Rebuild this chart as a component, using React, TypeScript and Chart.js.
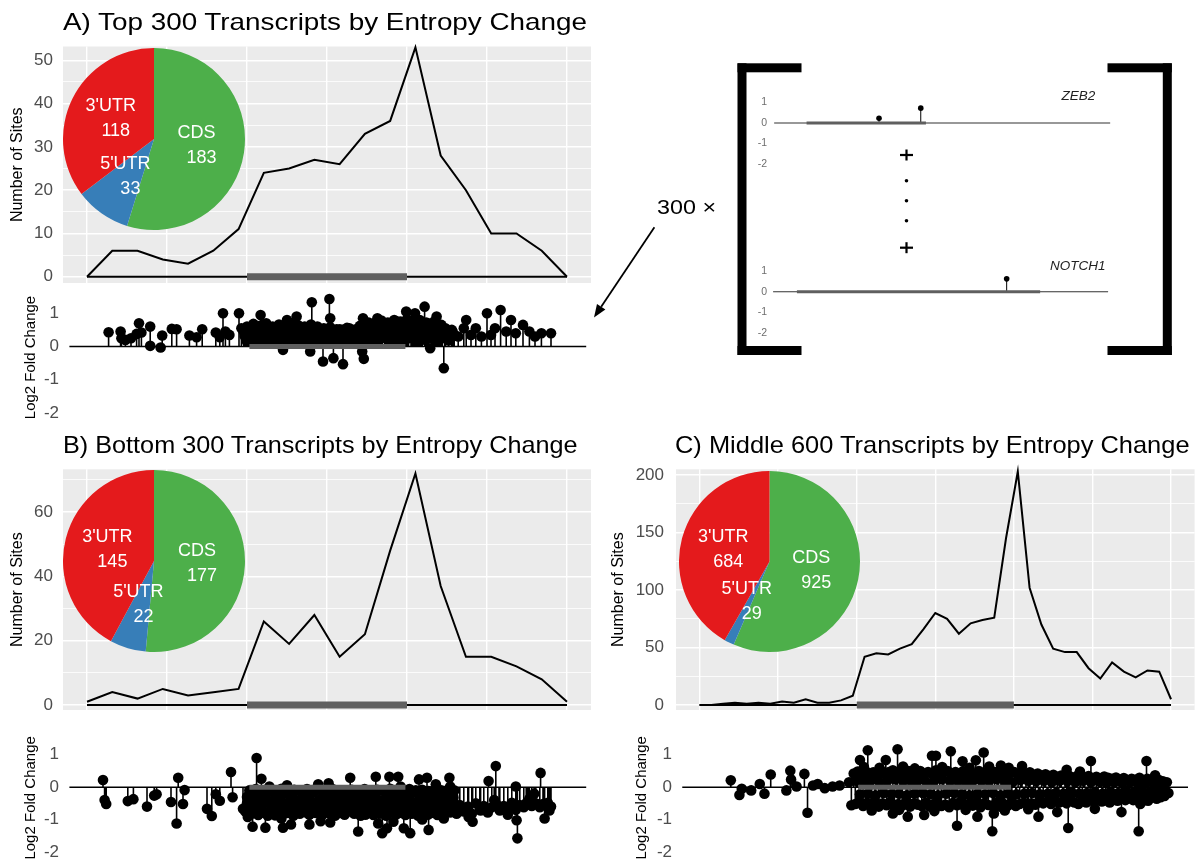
import { useEffect, useRef } from "react";
import { Chart, registerables } from "chart.js";

Chart.register(...registerables);

const SANS = "'Liberation Sans', Arial, Helvetica, sans-serif";
Chart.defaults.font.family = SANS;

const TICK_GRAY = "#4D4D4D";
const CDS_GRAY = "#5F5F5F";
const PANEL_GRAY = "#EBEBEB";

// Metagene coordinate: 5'UTR spans 0–2, CDS 2–4, 3'UTR 4–6
const META_MIN = -0.3;
const META_MAX = 6.3;
const META_GRID = [0, 1, 2, 3, 4, 5, 6];
const CDS_SPAN = [2, 4];
const LFC_CDS_SPAN = [2.03, 3.98];
const LFC_BASELINE = [-0.22, 6.24];

// Region breakdown of sites
const regionNames = ["CDS", "5'UTR", "3'UTR"];
const regionColors = ["#4DAF4A", "#377EB8", "#E41A1C"];
const topRegionCounts = [183, 33, 118];
const bottomRegionCounts = [177, 22, 145];
const middleRegionCounts = [925, 29, 684];

// Binned number of sites along the metagene
const topSiteCounts = [0, 6, 6, 4, 3, 6, 11, 24, 25, 27, 26, 33, 36, 53, 28, 20, 10, 10, 6, 0];
const bottomSiteCounts = [1, 4, 2, 5, 3, 4, 5, 26, 19, 28, 15, 22, 48, 72, 37, 15, 15, 12, 8, 1];
const middleSiteCounts = [
  0, 0, 1, 2, 1, 2, 1, 3, 2, 5, 2, 2, 4, 8, 42, 45, 44, 49, 53, 66, 80, 75, 62, 71, 74, 76, 145, 203, 102, 70,
  49, 46, 46, 32, 23, 37, 29, 24, 30, 29, 5,
];

const topCountTicks = [0, 10, 20, 30, 40, 50];
const bottomCountTicks = [0, 20, 40, 60];
const middleCountTicks = [0, 50, 100, 150, 200];
const lfcTicks = [-2, -1, 0, 1];

type Pt = [number, number];

// Per-site log2 fold change: [metagene position, log2FC]
const topFoldChange: Pt[] = [
  [0.27, 0.43], [0.42, 0.45], [0.43, 0.25], [0.48, 0.2], [0.55, 0.25], [0.62, 0.38], [0.65, 0.7], [0.68, 0.42],
  [0.79, 0.6], [0.79, 0.02], [0.92, -0.03], [0.94, 0.33], [1.06, 0.53], [1.12, 0.52], [1.28, 0.33], [1.37, 0.28],
  [1.44, 0.52], [1.61, 0.42], [1.66, 0.28], [1.7, 1.0], [1.73, 0.45], [1.78, 0.35], [1.9, 1.0], [1.93, 0.55],
  [1.96, 0.45], [2.0, 0.38], [2.03, 0.52], [2.06, 0.3], [2.1, 0.47], [2.13, 0.55], [2.17, 0.95], [2.2, 0.65],
  [2.23, 0.42], [2.26, 0.6], [2.3, 0.5], [2.32, 0.35], [2.36, 0.58], [2.39, 0.45], [2.42, 0.62], [2.45, -0.1],
  [2.47, 0.5], [2.5, 0.8], [2.54, 0.4], [2.56, 0.6], [2.6, 0.55], [2.62, 0.9], [2.65, 0.3], [2.69, 0.58],
  [2.71, 0.45], [2.74, 0.52], [2.77, 0.35], [2.79, -0.15], [2.81, 1.33], [2.82, 0.6], [2.86, 0.48], [2.89, 0.55],
  [2.91, 0.3], [2.95, -0.45], [2.98, 0.5], [3.0, 0.42], [3.03, 1.43], [3.04, 0.85], [3.06, 0.5], [3.08, -0.35],
  [3.11, 0.45], [3.14, 0.3], [3.16, 0.52], [3.2, -0.53], [3.23, 0.4], [3.25, 0.56], [3.28, 0.35], [3.31, 0.48],
  [3.35, 0.4], [3.38, 0.5], [3.41, 0.62], [3.44, -0.15], [3.45, 0.85], [3.46, -0.37], [3.49, 0.55], [3.51, 0.68],
  [3.55, 0.45], [3.59, 0.65], [3.63, 0.85], [3.65, 0.6], [3.69, 0.72], [3.72, 0.5], [3.75, 0.7], [3.78, 0.62],
  [3.82, 0.55], [3.84, 0.75], [3.88, 0.75], [3.9, 0.6], [3.94, 0.68], [3.97, 0.5], [3.99, 1.05], [4.02, 0.7],
  [4.05, 0.62], [4.08, 0.78], [4.1, 1.0], [4.14, 0.65], [4.17, 0.72], [4.19, 0.55], [4.22, 1.2], [4.26, 0.7],
  [4.29, -0.05], [4.31, 0.6], [4.34, 0.75], [4.37, 0.9], [4.39, 0.5], [4.43, 0.65], [4.46, -0.65], [4.48, 0.5],
  [4.52, 0.45], [4.56, 0.5], [4.59, 0.35],
  [1.97, 0.32], [2.02, 0.4], [2.07, 0.35], [2.12, 0.42], [2.17, 0.3], [2.22, 0.38], [2.27, 0.44], [2.32, 0.3],
  [2.37, 0.4], [2.42, 0.35], [2.47, 0.42], [2.52, 0.32], [2.57, 0.4], [2.62, 0.36], [2.67, 0.44], [2.72, 0.3],
  [2.77, 0.4], [2.82, 0.35], [2.87, 0.42], [2.92, 0.38], [2.97, 0.3], [3.02, 0.4], [3.07, 0.35], [3.12, 0.42],
  [3.17, 0.32], [3.22, 0.4], [3.27, 0.36], [3.32, 0.44], [3.37, 0.3], [3.42, 0.4], [3.47, 0.38], [3.52, 0.45],
  [3.57, 0.35], [3.62, 0.42], [3.67, 0.4], [3.72, 0.48], [3.77, 0.38], [3.82, 0.45], [3.87, 0.42], [3.92, 0.5],
  [3.97, 0.4], [4.02, 0.48], [4.07, 0.42], [4.12, 0.5], [4.17, 0.45], [4.22, 0.4], [4.27, 0.48], [4.32, 0.42],
  [4.37, 0.45], [4.42, 0.38], [4.47, 0.42], [4.52, 0.35], [4.57, 0.3],
  [2.0, 0.6], [2.08, 0.68], [2.16, 0.62], [2.24, 0.7], [2.32, 0.6], [2.4, 0.66], [2.48, 0.62], [2.56, 0.7],
  [2.64, 0.64], [2.72, 0.6], [2.8, 0.66], [2.88, 0.6], [2.96, 0.55], [3.04, 0.58], [3.12, 0.52], [3.2, 0.5],
  [3.28, 0.55], [3.36, 0.52], [3.44, 0.6], [3.52, 0.72], [3.6, 0.7], [3.68, 0.78], [3.76, 0.72], [3.84, 0.8],
  [3.92, 0.75], [4.0, 0.82], [4.08, 0.75], [4.16, 0.8], [4.24, 0.72], [4.32, 0.68], [4.4, 0.62], [4.48, 0.55],
  [2.0, 0.15], [2.08, 0.2], [2.16, 0.12], [2.24, 0.2], [2.33, 0.15], [2.41, 0.22], [2.5, 0.14], [2.58, 0.2],
  [2.67, 0.15], [2.75, 0.2], [2.84, 0.12], [2.92, 0.18], [3.01, 0.15], [3.1, 0.2], [3.18, 0.12], [3.27, 0.18],
  [3.35, 0.15], [3.43, 0.22], [3.52, 0.15], [3.6, 0.2], [3.68, 0.25], [3.77, 0.2], [3.85, 0.28], [3.93, 0.2],
  [4.02, 0.25], [4.1, 0.3], [4.18, 0.2], [4.27, 0.25], [4.35, 0.2], [4.44, 0.25], [4.52, 0.18],
  [4.57, 0.45], [4.64, 0.3], [4.71, 0.55], [4.74, 0.8], [4.8, 0.35], [4.86, 0.55], [4.93, 0.3], [5.0, 1.0],
  [5.05, 0.35], [5.1, 0.55], [5.17, 1.1], [5.24, 0.45], [5.3, 0.8], [5.36, 0.4], [5.45, 0.65], [5.53, 0.45],
  [5.6, 0.3], [5.68, 0.4], [5.8, 0.4],
];

const bottomFoldChange: Pt[] = [
  [0.2, 0.22], [0.22, -0.4], [0.24, -0.52], [0.51, -0.43], [0.58, -0.37], [0.75, -0.6], [0.84, -0.26], [0.87, -0.22],
  [1.05, -0.46], [1.12, -1.12], [1.14, 0.29], [1.2, -0.52], [1.22, -0.09], [1.5, -0.67], [1.56, -0.89], [1.61, -0.22],
  [1.66, -0.42], [1.8, 0.47], [1.82, -0.31], [1.95, -0.67],
  [2.01, -0.92], [2.07, -1.22], [2.12, 0.9], [2.15, -0.72], [2.18, 0.26], [2.23, -1.25], [2.28, 0.02], [2.31, -0.46],
  [2.35, -0.87], [2.43, -0.97], [2.45, -1.25], [2.5, 0.06], [2.55, -1.15], [2.56, -0.3], [2.68, -0.67], [2.78, -1.15],
  [2.79, -0.5], [2.89, 0.09], [2.92, -1.05], [3.02, 0.12], [3.04, -1.09], [3.12, -0.3], [3.16, -0.8], [3.29, 0.29],
  [3.3, -0.1], [3.39, -1.37], [3.48, -0.85], [3.61, 0.32], [3.64, -1.12], [3.69, -1.42], [3.75, -1.27], [3.78, 0.32],
  [3.83, -1.07], [3.89, 0.32], [3.92, 0.02], [3.96, -1.27], [4.02, -0.77], [4.04, -1.42], [4.15, 0.24], [4.19, -1.0],
  [4.25, 0.29], [4.27, -1.32], [4.36, 0.09], [4.42, -0.77], [4.46, -0.97], [4.53, 0.29], [4.54, 0.02], [4.63, -0.72],
  [4.77, -0.92], [4.82, -1.07], [4.92, -0.72], [5.02, 0.19], [5.09, -0.4], [5.11, 0.65], [5.15, -0.6], [5.26, -0.85],
  [5.36, 0.02], [5.37, -1.02], [5.38, -1.58], [5.49, -0.5], [5.53, -0.36], [5.59, -0.2], [5.67, 0.44], [5.7, -0.52],
  [5.72, -0.97], [5.78, -0.72],
  [1.98, -0.75], [2.02, -0.6], [2.06, -0.82], [2.1, -0.7], [2.14, -0.86], [2.18, -0.62], [2.22, -0.8], [2.26, -0.88],
  [2.3, -0.68], [2.34, -0.78], [2.38, -0.6], [2.42, -0.85], [2.46, -0.72], [2.5, -0.8], [2.54, -0.65], [2.58, -0.88],
  [2.62, -0.7], [2.66, -0.82], [2.7, -0.6], [2.74, -0.78], [2.78, -0.85], [2.82, -0.66], [2.86, -0.8], [2.9, -0.72],
  [2.94, -0.86], [2.98, -0.62], [3.02, -0.8], [3.06, -0.7], [3.1, -0.88], [3.14, -0.65], [3.18, -0.78], [3.22, -0.85],
  [3.26, -0.6], [3.3, -0.75], [3.34, -0.82], [3.38, -0.68], [3.42, -0.88], [3.46, -0.72], [3.5, -0.8], [3.54, -0.62],
  [3.58, -0.86], [3.62, -0.75], [3.66, -0.82], [3.7, -0.65], [3.74, -0.88], [3.78, -0.78], [3.82, -0.7], [3.86, -0.85],
  [3.9, -0.8], [3.94, -0.68], [3.98, -0.86], [4.02, -0.75], [4.06, -0.82], [4.1, -0.62], [4.14, -0.88], [4.18, -0.78],
  [4.22, -0.7], [4.26, -0.85], [4.3, -0.8], [4.34, -0.65], [4.38, -0.86], [4.42, -0.72], [4.46, -0.8], [4.5, -0.6],
  [4.54, -0.78], [4.58, -0.68], [4.62, -0.82],
  [2.0, -0.5], [2.05, -0.55], [2.1, -0.48], [2.15, -0.58], [2.2, -0.5], [2.25, -0.45], [2.3, -0.55], [2.35, -0.5],
  [2.4, -0.6], [2.45, -0.48], [2.5, -0.55], [2.55, -0.5], [2.6, -0.45], [2.65, -0.58], [2.7, -0.5], [2.75, -0.55],
  [2.8, -0.48], [2.85, -0.6], [2.9, -0.52], [2.95, -0.45], [3.0, -0.55], [3.05, -0.5], [3.1, -0.58], [3.15, -0.48],
  [3.2, -0.55], [3.25, -0.5], [3.3, -0.45], [3.35, -0.58], [3.4, -0.5], [3.45, -0.55], [3.5, -0.48], [3.55, -0.6],
  [3.6, -0.52], [3.65, -0.45], [3.7, -0.55], [3.75, -0.5], [3.8, -0.58], [3.85, -0.48], [3.9, -0.55], [3.95, -0.5],
  [4.0, -0.45], [4.05, -0.58], [4.1, -0.5], [4.15, -0.55], [4.2, -0.48], [4.25, -0.6], [4.3, -0.52], [4.35, -0.45],
  [4.4, -0.55], [4.45, -0.5], [4.5, -0.58], [4.55, -0.48], [4.6, -0.55],
  [2.0, -0.3], [2.06, -0.15], [2.12, -0.4], [2.18, -0.2], [2.24, -0.35], [2.3, -0.12], [2.36, -0.28], [2.42, -0.42],
  [2.48, -0.18], [2.54, -0.32], [2.6, -0.1], [2.66, -0.38], [2.72, -0.22], [2.78, -0.3], [2.84, -0.15], [2.9, -0.4],
  [2.96, -0.25], [3.02, -0.35], [3.08, -0.12], [3.14, -0.45], [3.2, -0.2], [3.26, -0.3], [3.32, -0.38], [3.38, -0.15],
  [3.44, -0.28], [3.5, -0.42], [3.56, -0.2], [3.62, -0.35], [3.68, -0.1], [3.74, -0.3], [3.8, -0.4], [3.86, -0.18],
  [3.92, -0.32], [3.98, -0.25], [4.04, -0.4], [4.1, -0.15], [4.16, -0.35], [4.22, -0.22], [4.28, -0.42], [4.34, -0.3],
  [4.4, -0.18], [4.46, -0.38], [4.52, -0.25], [4.58, -0.32],
  [2.03, -0.1], [2.11, -0.06], [2.19, -0.12], [2.27, -0.08], [2.35, -0.1], [2.43, -0.05], [2.51, -0.1], [2.59, -0.08],
  [2.67, -0.12], [2.75, -0.06], [2.83, -0.1], [2.91, -0.08], [2.99, -0.12], [3.07, -0.06], [3.15, -0.1], [3.23, -0.12],
  [3.31, -0.08], [3.39, -0.1], [3.47, -0.06], [3.55, -0.12], [3.63, -0.08], [3.71, -0.1], [3.79, -0.05], [3.87, -0.1],
  [3.95, -0.12], [4.03, -0.06], [4.11, -0.1], [4.19, -0.08], [4.27, -0.12], [4.35, -0.06], [4.43, -0.1], [4.51, -0.08],
  [4.59, -0.1],
  [4.66, -0.55], [4.71, -0.75], [4.76, -0.6], [4.81, -0.82], [4.86, -0.5], [4.91, -0.68], [4.96, -0.58], [5.01, -0.78],
  [5.06, -0.62], [5.11, -0.5], [5.16, -0.72], [5.21, -0.58], [5.26, -0.66], [5.31, -0.48], [5.36, -0.7], [5.41, -0.55],
  [5.46, -0.62], [5.51, -0.45], [5.56, -0.58], [5.61, -0.5], [5.66, -0.62], [5.71, -0.55], [5.76, -0.48], [5.8, -0.6],
];

const middleFoldChange: Pt[] = [
  [0.4, 0.21], [0.51, -0.24], [0.54, -0.05], [0.66, -0.1], [0.77, 0.1], [0.83, -0.2], [0.91, 0.39], [1.11, -0.1],
  [1.16, 0.51], [1.17, 0.24], [1.24, 0.02], [1.34, 0.41], [1.38, -0.79], [1.45, 0.05], [1.51, 0.1], [1.6, -0.03],
  [1.7, 0.02], [1.79, 0.05], [1.91, 0.15], [1.94, -0.56],
  [2.05, 0.84], [2.15, 1.14], [2.38, 0.84], [2.53, 1.17], [2.47, -0.81], [2.66, -0.91], [2.87, -0.86], [2.97, 0.97],
  [3.02, 0.97], [3.21, 1.11], [3.29, -1.19], [3.36, 0.8], [3.53, 0.83], [3.55, -0.91], [3.63, 1.07], [3.74, -1.36],
  [3.76, -0.81], [3.85, 0.67], [4.12, 0.65], [4.33, -0.91], [4.42, 0.33], [4.57, -0.77], [4.69, 0.54], [4.71, -1.26],
  [4.86, 0.48], [5.0, 0.81], [5.05, -0.67], [5.14, 0.28], [5.39, -0.77], [5.52, 0.23], [5.61, -1.36], [5.63, -0.52],
  [5.71, 0.81], [5.82, 0.37], [5.88, 0.13], [5.9, -0.14], [5.73, -0.42], [5.52, -0.27],
  [2.1, 0.62], [2.3, 0.6], [2.6, 0.64], [2.75, 0.58], [3.1, 0.62], [3.45, 0.6], [3.7, 0.64], [3.95, 0.6],
  [2.2, -0.72], [2.55, -0.7], [3.0, -0.74], [3.4, -0.7], [3.9, -0.72], [4.2, -0.68],
  [1.97, 0.42], [2.02, 0.48], [2.07, 0.38], [2.12, 0.5], [2.17, 0.42], [2.22, 0.46], [2.27, 0.36], [2.32, 0.5],
  [2.37, 0.4], [2.42, 0.47], [2.47, 0.52], [2.52, 0.38], [2.57, 0.46], [2.62, 0.42], [2.67, 0.5], [2.72, 0.36],
  [2.77, 0.46], [2.82, 0.5], [2.87, 0.4], [2.92, 0.47], [2.97, 0.42], [3.02, 0.52], [3.07, 0.38], [3.12, 0.46],
  [3.17, 0.5], [3.22, 0.37], [3.27, 0.47], [3.32, 0.42], [3.37, 0.5], [3.42, 0.4], [3.47, 0.46], [3.52, 0.37],
  [3.57, 0.5], [3.62, 0.42], [3.67, 0.46], [3.72, 0.38], [3.77, 0.47], [3.82, 0.43], [3.87, 0.49], [3.92, 0.38],
  [3.97, 0.44], [4.02, 0.47], [4.07, 0.4], [4.12, 0.46], [4.17, 0.42], [4.22, 0.46], [4.27, 0.38], [4.32, 0.42],
  [4.37, 0.36], [4.42, 0.4], [4.47, 0.34], [4.52, 0.38], [4.57, 0.32], [4.62, 0.36], [4.67, 0.3], [4.72, 0.35],
  [4.77, 0.29], [4.82, 0.34], [4.87, 0.38], [4.92, 0.3], [4.97, 0.34], [5.02, 0.28], [5.07, 0.32], [5.12, 0.27],
  [5.17, 0.33], [5.22, 0.29], [5.27, 0.26], [5.32, 0.3], [5.37, 0.23], [5.42, 0.28], [5.47, 0.22], [5.52, 0.26],
  [5.57, 0.23], [5.62, 0.29], [5.67, 0.22], [5.72, 0.26], [5.77, 0.2], [5.82, 0.25], [5.87, 0.22], [5.92, 0.18],
  [5.97, 0.15],
  [1.99, -0.52], [2.04, -0.45], [2.09, -0.58], [2.14, -0.48], [2.19, -0.54], [2.24, -0.44], [2.29, -0.6], [2.34, -0.5],
  [2.39, -0.56], [2.44, -0.46], [2.49, -0.62], [2.54, -0.52], [2.59, -0.57], [2.64, -0.45], [2.69, -0.6], [2.74, -0.5],
  [2.79, -0.54], [2.84, -0.58], [2.89, -0.48], [2.94, -0.6], [2.99, -0.52], [3.04, -0.46], [3.09, -0.58], [3.14, -0.54],
  [3.19, -0.62], [3.24, -0.48], [3.29, -0.56], [3.34, -0.45], [3.39, -0.6], [3.44, -0.52], [3.49, -0.57], [3.54, -0.46],
  [3.59, -0.62], [3.64, -0.5], [3.69, -0.55], [3.74, -0.58], [3.79, -0.48], [3.84, -0.6], [3.89, -0.52], [3.94, -0.57],
  [3.99, -0.46], [4.04, -0.58], [4.09, -0.52], [4.14, -0.48], [4.19, -0.56], [4.24, -0.5], [4.29, -0.54], [4.34, -0.44],
  [4.39, -0.5], [4.44, -0.45], [4.49, -0.52], [4.54, -0.42], [4.59, -0.48], [4.64, -0.44], [4.69, -0.5], [4.74, -0.4],
  [4.79, -0.47], [4.84, -0.52], [4.89, -0.42], [4.94, -0.47], [4.99, -0.4], [5.04, -0.45], [5.09, -0.37], [5.14, -0.44],
  [5.19, -0.4], [5.24, -0.47], [5.29, -0.37], [5.34, -0.42], [5.39, -0.35], [5.44, -0.4], [5.49, -0.34], [5.54, -0.4],
  [5.59, -0.35], [5.64, -0.31], [5.69, -0.4], [5.74, -0.34], [5.79, -0.29], [5.84, -0.36], [5.89, -0.31], [5.94, -0.27],
  [5.99, -0.18],
  [2.0, 0.2], [2.1, 0.18], [2.2, 0.22], [2.3, 0.15], [2.4, 0.2], [2.5, 0.25], [2.6, 0.18], [2.7, 0.2],
  [2.8, 0.22], [2.9, 0.15], [3.0, 0.2], [3.1, 0.25], [3.2, 0.18], [3.3, 0.2], [3.4, 0.15], [3.5, 0.22],
  [3.6, 0.2], [3.7, 0.18], [3.8, 0.25], [3.9, 0.2], [4.0, 0.15], [4.1, 0.22], [4.2, 0.2], [4.3, 0.18],
  [4.4, 0.2], [4.5, 0.15], [4.6, 0.2], [4.7, 0.18], [4.8, 0.15], [4.9, 0.2], [5.0, 0.15], [5.1, 0.18],
  [5.2, 0.12], [5.3, 0.15], [5.4, 0.12], [5.5, 0.15], [5.6, 0.1], [5.7, 0.12], [5.8, 0.1], [5.9, 0.1],
  [2.05, -0.22], [2.15, -0.2], [2.25, -0.25], [2.35, -0.18], [2.45, -0.22], [2.55, -0.2], [2.65, -0.25], [2.75, -0.2],
  [2.85, -0.18], [2.95, -0.22], [3.05, -0.25], [3.15, -0.2], [3.25, -0.18], [3.35, -0.22], [3.45, -0.25], [3.55, -0.2],
  [3.65, -0.22], [3.75, -0.18], [3.85, -0.25], [3.95, -0.2], [4.05, -0.22], [4.15, -0.2], [4.25, -0.18], [4.35, -0.22],
  [4.45, -0.2], [4.55, -0.18], [4.65, -0.2], [4.75, -0.15], [4.85, -0.2], [4.95, -0.18], [5.05, -0.15], [5.15, -0.2],
  [5.25, -0.15], [5.35, -0.18], [5.45, -0.12], [5.55, -0.15], [5.65, -0.12], [5.75, -0.15], [5.85, -0.1], [5.95, -0.1],
];

// Single-gene examples: position along the transcript (0–100) and log2FC
const zeb2FoldChange: Pt[] = [[31.6, 0.23], [43.7, 0.72]];
const zeb2Cds = [10.6, 45.2];
const zeb2Transcript = [1.2, 98.6];
const notch1FoldChange: Pt[] = [[68.6, 0.63]];
const notch1Cds = [7.8, 78.3];
const notch1Transcript = [0.9, 98.0];

type Box = { left: number; top: number; width: number; height: number };
type Area = { left: number; top: number; right: number; bottom: number };

const panelBackground = {
  id: "panelBackground",
  beforeDraw(chart: any) {
    const { ctx, chartArea } = chart;
    ctx.save();
    ctx.fillStyle = PANEL_GRAY;
    ctx.fillRect(chartArea.left, chartArea.top, chartArea.width, chartArea.height);
    ctx.restore();
  },
};

const sliceLabels = {
  id: "sliceLabels",
  afterDatasetsDraw(chart: any) {
    const { ctx } = chart;
    const meta = chart.getDatasetMeta(0);
    const values = chart.data.datasets[0].data as number[];
    const names = chart.data.labels as string[];
    ctx.save();
    ctx.fillStyle = "#FFFFFF";
    ctx.font = `18px ${SANS}`;
    ctx.textAlign = "center";
    ctx.textBaseline = "middle";
    meta.data.forEach((arc: any, i: number) => {
      const p = arc.tooltipPosition(true);
      ctx.fillText(`${names[i]} `, p.x, p.y - 12.5);
      ctx.fillText(` ${values[i]}`, p.x, p.y + 12.5);
    });
    ctx.restore();
  },
};

function baseOptions(box: Box, area: Area) {
  return {
    animation: false as const,
    responsive: false,
    devicePixelRatio: 1,
    events: [] as any[],
    layout: {
      padding: {
        left: 0,
        top: area.top - box.top,
        right: box.left + box.width - area.right,
        bottom: box.top + box.height - area.bottom,
      },
    },
    plugins: { legend: { display: false }, tooltip: { enabled: false } },
  };
}

function valueAxis(o: {
  min: number;
  max: number;
  majors: number[];
  minors?: number[];
  width: number;
  title?: string;
  titleSize?: number;
  titleGap?: number;
  tickSize: number;
  tickGap: number;
  tickColor: string;
  grid: boolean;
}) {
  const all = [...o.majors, ...(o.minors ?? [])];
  return {
    type: "linear" as const,
    position: "left" as const,
    min: o.min,
    max: o.max,
    afterBuildTicks: (s: any) => {
      s.ticks = all.map((value) => ({ value }));
    },
    afterFit: (s: any) => {
      s.width = o.width;
      s.paddingTop = 0;
      s.paddingBottom = 0;
    },
    ticks: {
      autoSkip: false,
      padding: o.tickGap,
      color: o.tickColor,
      font: { family: SANS, size: o.tickSize },
      callback: (v: any) => (o.majors.includes(Number(v)) ? String(v) : ""),
    },
    grid: o.grid
      ? {
          color: "#FFFFFF",
          drawTicks: false,
          lineWidth: (c: any) => (o.majors.includes(c.tick?.value) ? 1.6 : 0.8),
        }
      : { display: false, drawTicks: false },
    border: { display: false },
    title: o.title
      ? {
          display: true,
          text: o.title,
          color: "#000000",
          font: { family: SANS, size: o.titleSize },
          padding: { top: o.titleGap, bottom: 0 },
        }
      : { display: false },
  };
}

function halfSteps(majors: number[], max: number) {
  const step = majors[1] - majors[0];
  return majors.map((v) => v + step / 2).filter((v) => v <= max);
}

function siteChartConfig(
  counts: number[],
  majors: number[],
  yMin: number,
  yMax: number,
  box: Box,
  area: Area,
  titleGap: number,
  tickGap: number
) {
  const first = META_GRID[0];
  const last = META_GRID[META_GRID.length - 1];
  const step = (last - first) / (counts.length - 1);
  return {
    type: "line",
    data: {
      datasets: [
        {
          data: [{ x: CDS_SPAN[0], y: 0 }, { x: CDS_SPAN[1], y: 0 }],
          borderColor: CDS_GRAY,
          borderWidth: 7,
          borderCapStyle: "butt",
          pointRadius: 0,
          order: 0,
          clip: false,
        },
        {
          data: counts.map((y, i) => ({ x: first + i * step, y })),
          borderColor: "#000000",
          borderWidth: 2,
          pointRadius: 0,
          tension: 0,
          order: 1,
          clip: false,
        },
        {
          data: [{ x: first, y: 0 }, { x: last, y: 0 }],
          borderColor: "#000000",
          borderWidth: 2,
          pointRadius: 0,
          order: 2,
          clip: false,
        },
      ],
    },
    options: {
      ...baseOptions(box, area),
      scales: {
        x: {
          type: "linear",
          min: META_MIN,
          max: META_MAX,
          afterBuildTicks: (s: any) => {
            s.ticks = META_GRID.map((value) => ({ value }));
          },
          afterFit: (s: any) => {
            s.height = 0;
            s.paddingLeft = 0;
            s.paddingRight = 0;
          },
          ticks: { display: false },
          grid: { color: "#FFFFFF", lineWidth: 1.4, drawTicks: false },
          border: { display: false },
        },
        y: valueAxis({
          min: yMin,
          max: yMax,
          majors,
          minors: halfSteps(majors, yMax),
          width: area.left - box.left,
          title: "Number of Sites",
          titleSize: 16,
          titleGap,
          tickSize: 17,
          tickGap,
          tickColor: TICK_GRAY,
          grid: true,
        }),
      },
    },
    plugins: [panelBackground],
  };
}

function lollipopDatasets(
  points: Pt[],
  cds: number[],
  baseline: number[],
  sizes: { dot: number; stem: number; bar: number; base: number; baseColor: string }
) {
  return [
    {
      data: [{ x: cds[0], y: 0 }, { x: cds[1], y: 0 }],
      borderColor: CDS_GRAY,
      borderWidth: sizes.bar,
      borderCapStyle: "butt",
      pointRadius: 0,
      order: 0,
      clip: false,
    },
    {
      data: points.map(([x, y]) => ({ x, y })),
      showLine: false,
      pointRadius: sizes.dot,
      pointBackgroundColor: "#000000",
      pointBorderColor: "#000000",
      pointBorderWidth: 0,
      order: 1,
      clip: false,
    },
    {
      data: points.flatMap(([x, y]) => [
        { x, y: 0 },
        { x, y },
        { x, y: null },
      ]),
      borderColor: "#000000",
      borderWidth: sizes.stem,
      pointRadius: 0,
      spanGaps: false,
      order: 2,
      clip: false,
    },
    {
      data: [{ x: baseline[0], y: 0 }, { x: baseline[1], y: 0 }],
      borderColor: sizes.baseColor,
      borderWidth: sizes.base,
      pointRadius: 0,
      order: 3,
      clip: false,
    },
  ];
}

function foldChangeConfig(points: Pt[], box: Box, area: Area, titleGap: number) {
  return {
    type: "line",
    data: {
      datasets: lollipopDatasets(points, LFC_CDS_SPAN, LFC_BASELINE, {
        dot: 5.3,
        stem: 1.6,
        bar: 5,
        base: 1.5,
        baseColor: "#000000",
      }),
    },
    options: {
      ...baseOptions(box, area),
      scales: {
        x: { type: "linear", min: META_MIN, max: META_MAX, display: false },
        y: valueAxis({
          min: -2.24,
          max: 1.58,
          majors: lfcTicks,
          width: area.left - box.left,
          title: "Log2 Fold Change",
          titleSize: 15,
          titleGap,
          tickSize: 17,
          tickGap: 4,
          tickColor: TICK_GRAY,
          grid: false,
        }),
      },
    },
  };
}

function geneConfig(points: Pt[], cds: number[], transcript: number[], box: Box, area: Area) {
  return {
    type: "line",
    data: {
      datasets: lollipopDatasets(points, cds, transcript, {
        dot: 2.8,
        stem: 1,
        bar: 3,
        base: 1.1,
        baseColor: "#333333",
      }),
    },
    options: {
      ...baseOptions(box, area),
      scales: {
        x: { type: "linear", min: 0, max: 100, display: false },
        y: valueAxis({
          min: -2.5,
          max: 1.5,
          majors: lfcTicks,
          width: area.left - box.left,
          tickSize: 10.5,
          tickGap: 3,
          tickColor: "#6E6E6E",
          grid: false,
        }),
      },
    },
  };
}

function pieConfig(counts: number[]) {
  return {
    type: "pie",
    data: {
      labels: regionNames,
      datasets: [{ data: counts, backgroundColor: regionColors, borderWidth: 0 }],
    },
    options: {
      animation: false as const,
      responsive: false,
      devicePixelRatio: 1,
      events: [] as any[],
      layout: { padding: 0 },
      plugins: { legend: { display: false }, tooltip: { enabled: false } },
    },
    plugins: [sliceLabels],
  };
}

function ChartCanvas({ box, make }: { box: Box; make: () => any }) {
  const ref = useRef<HTMLCanvasElement | null>(null);
  useEffect(() => {
    if (!ref.current) return;
    const chart = new Chart(ref.current, make());
    return () => chart.destroy();
  }, []);
  return (
    <canvas
      ref={ref}
      width={box.width}
      height={box.height}
      style={{ position: "absolute", left: box.left, top: box.top, width: box.width, height: box.height }}
    />
  );
}

const measureCtx = typeof document !== "undefined" ? document.createElement("canvas").getContext("2d") : null;
function textWidth(text: string, font: string) {
  if (!measureCtx) return 0;
  measureCtx.font = font;
  return measureCtx.measureText(text).width;
}

function Caption(props: {
  text: string;
  x: number;
  baseline: number;
  size: number;
  fitWidth?: number;
  italic?: boolean;
  anchor?: "start" | "middle";
  color?: string;
}) {
  const { text, x, baseline, size, fitWidth, italic = false, anchor = "start", color = "#000000" } = props;
  const font = `${italic ? "italic " : ""}${size}px ${SANS}`;
  const natural = textWidth(text, font);
  const scale = fitWidth && natural ? fitWidth / natural : 1;
  const left = anchor === "middle" ? x - (natural * scale) / 2 : x;
  return (
    <div
      style={{
        position: "absolute",
        left,
        top: baseline - 0.8465 * size,
        fontFamily: SANS,
        fontSize: size,
        fontStyle: italic ? "italic" : "normal",
        lineHeight: `${size}px`,
        color,
        whiteSpace: "pre",
        transform: `scaleX(${scale})`,
        transformOrigin: "0 0",
      }}
    >
      {text}
    </div>
  );
}

function PlusMark({ cx, cy }: { cx: number; cy: number }) {
  return (
    <g fill="#000000">
      <rect x={cx - 6.5} y={cy - 1.1} width={13} height={2.2} />
      <rect x={cx - 1.1} y={cy - 5.5} width={2.2} height={11} />
    </g>
  );
}

// Chart frames (canvas box and plotting area, in page pixels)
const topSiteBox = { left: 0, top: 20, width: 600, height: 285 };
const topSiteArea = { left: 63, top: 46.5, right: 591, bottom: 283 };
const topLfcBox = { left: 0, top: 285, width: 600, height: 150 };
const topLfcArea = { left: 63, top: 294, right: 591, bottom: 421 };

const bottomSiteBox = { left: 0, top: 455, width: 600, height: 265 };
const bottomSiteArea = { left: 63, top: 469.3, right: 591, bottom: 710 };
const bottomLfcBox = { left: 0, top: 720, width: 600, height: 145 };
const bottomLfcArea = { left: 63, top: 736, right: 591, bottom: 862.6 };

const middleSiteBox = { left: 600, top: 455, width: 598, height: 265 };
const middleSiteArea = { left: 676, top: 469.3, right: 1194.6, bottom: 710 };
const middleLfcBox = { left: 600, top: 720, width: 598, height: 145 };
const middleLfcArea = { left: 676, top: 736, right: 1194.6, bottom: 862.6 };

const zeb2Box = { left: 745, top: 80, width: 380, height: 110 };
const zeb2Area = { left: 770, top: 92.1, right: 1115, bottom: 174.5 };
const notch1Box = { left: 745, top: 250, width: 380, height: 105 };
const notch1Area = { left: 770, top: 261, right: 1115, bottom: 343 };

export default function App() {
  return (
    <div
      style={{
        position: "absolute",
        left: 0,
        top: 0,
        width: 1198,
        height: 865,
        overflow: "hidden",
        background: "#FFFFFF",
      }}
    >
      <ChartCanvas
        box={topSiteBox}
        make={() => siteChartConfig(topSiteCounts, topCountTicks, -1.45, 53.2, topSiteBox, topSiteArea, 7.8, 10)}
      />
      <ChartCanvas box={topLfcBox} make={() => foldChangeConfig(topFoldChange, topLfcBox, topLfcArea, 22)} />
      <ChartCanvas
        box={bottomSiteBox}
        make={() =>
          siteChartConfig(bottomSiteCounts, bottomCountTicks, -1.55, 73.3, bottomSiteBox, bottomSiteArea, 7.8, 10)
        }
      />
      <ChartCanvas
        box={bottomLfcBox}
        make={() => foldChangeConfig(bottomFoldChange, bottomLfcBox, bottomLfcArea, 21.5)}
      />
      <ChartCanvas
        box={middleSiteBox}
        make={() =>
          siteChartConfig(middleSiteCounts, middleCountTicks, -4.35, 205, middleSiteBox, middleSiteArea, 9.4, 12)
        }
      />
      <ChartCanvas
        box={middleLfcBox}
        make={() => foldChangeConfig(middleFoldChange, middleLfcBox, middleLfcArea, 33)}
      />

      <ChartCanvas box={{ left: 63, top: 48, width: 182, height: 182 }} make={() => pieConfig(topRegionCounts)} />
      <ChartCanvas box={{ left: 63, top: 470, width: 182, height: 182 }} make={() => pieConfig(bottomRegionCounts)} />
      <ChartCanvas box={{ left: 679, top: 471, width: 181, height: 181 }} make={() => pieConfig(middleRegionCounts)} />

      <ChartCanvas
        box={zeb2Box}
        make={() => geneConfig(zeb2FoldChange, zeb2Cds, zeb2Transcript, zeb2Box, zeb2Area)}
      />
      <ChartCanvas
        box={notch1Box}
        make={() => geneConfig(notch1FoldChange, notch1Cds, notch1Transcript, notch1Box, notch1Area)}
      />

      <svg width={1198} height={865} style={{ position: "absolute", left: 0, top: 0 }}>
        <g fill="#000000">
          <rect x={737.5} y={63.3} width={9} height={291.7} />
          <rect x={737.5} y={63.3} width={64} height={9} />
          <rect x={737.5} y={346} width={64} height={9} />
          <rect x={1162.8} y={63.3} width={9} height={291.7} />
          <rect x={1107.5} y={63.3} width={64.3} height={9} />
          <rect x={1107.5} y={346} width={64.3} height={9} />
          <circle cx={906.5} cy={180.7} r={1.8} />
          <circle cx={906.5} cy={200.7} r={1.8} />
          <circle cx={906.5} cy={220.7} r={1.8} />
        </g>
        <PlusMark cx={906.5} cy={155} />
        <PlusMark cx={906.5} cy={247.7} />
        <line x1={654.4} y1={227.3} x2={601.2} y2={306.7} stroke="#000000" strokeWidth={1.8} />
        <polygon points="594,317.5 605.4,309.5 597,303.9" fill="#000000" />
      </svg>

      <Caption text="A) Top 300 Transcripts by Entropy Change" x={63} baseline={30} size={24} fitWidth={525} />
      <Caption text="B) Bottom 300 Transcripts by Entropy Change" x={63} baseline={453} size={24} fitWidth={515} />
      <Caption text="C) Middle 600 Transcripts by Entropy Change" x={675} baseline={453} size={24} fitWidth={515} />
      <Caption text="300 ×" x={657} baseline={213.3} size={21} fitWidth={59} />
      <Caption text="ZEB2" x={1078.5} baseline={100.7} size={13.5} italic anchor="middle" color="#222222" />
      <Caption text="NOTCH1" x={1077.7} baseline={270} size={13.5} italic anchor="middle" color="#222222" />
    </div>
  );
}
